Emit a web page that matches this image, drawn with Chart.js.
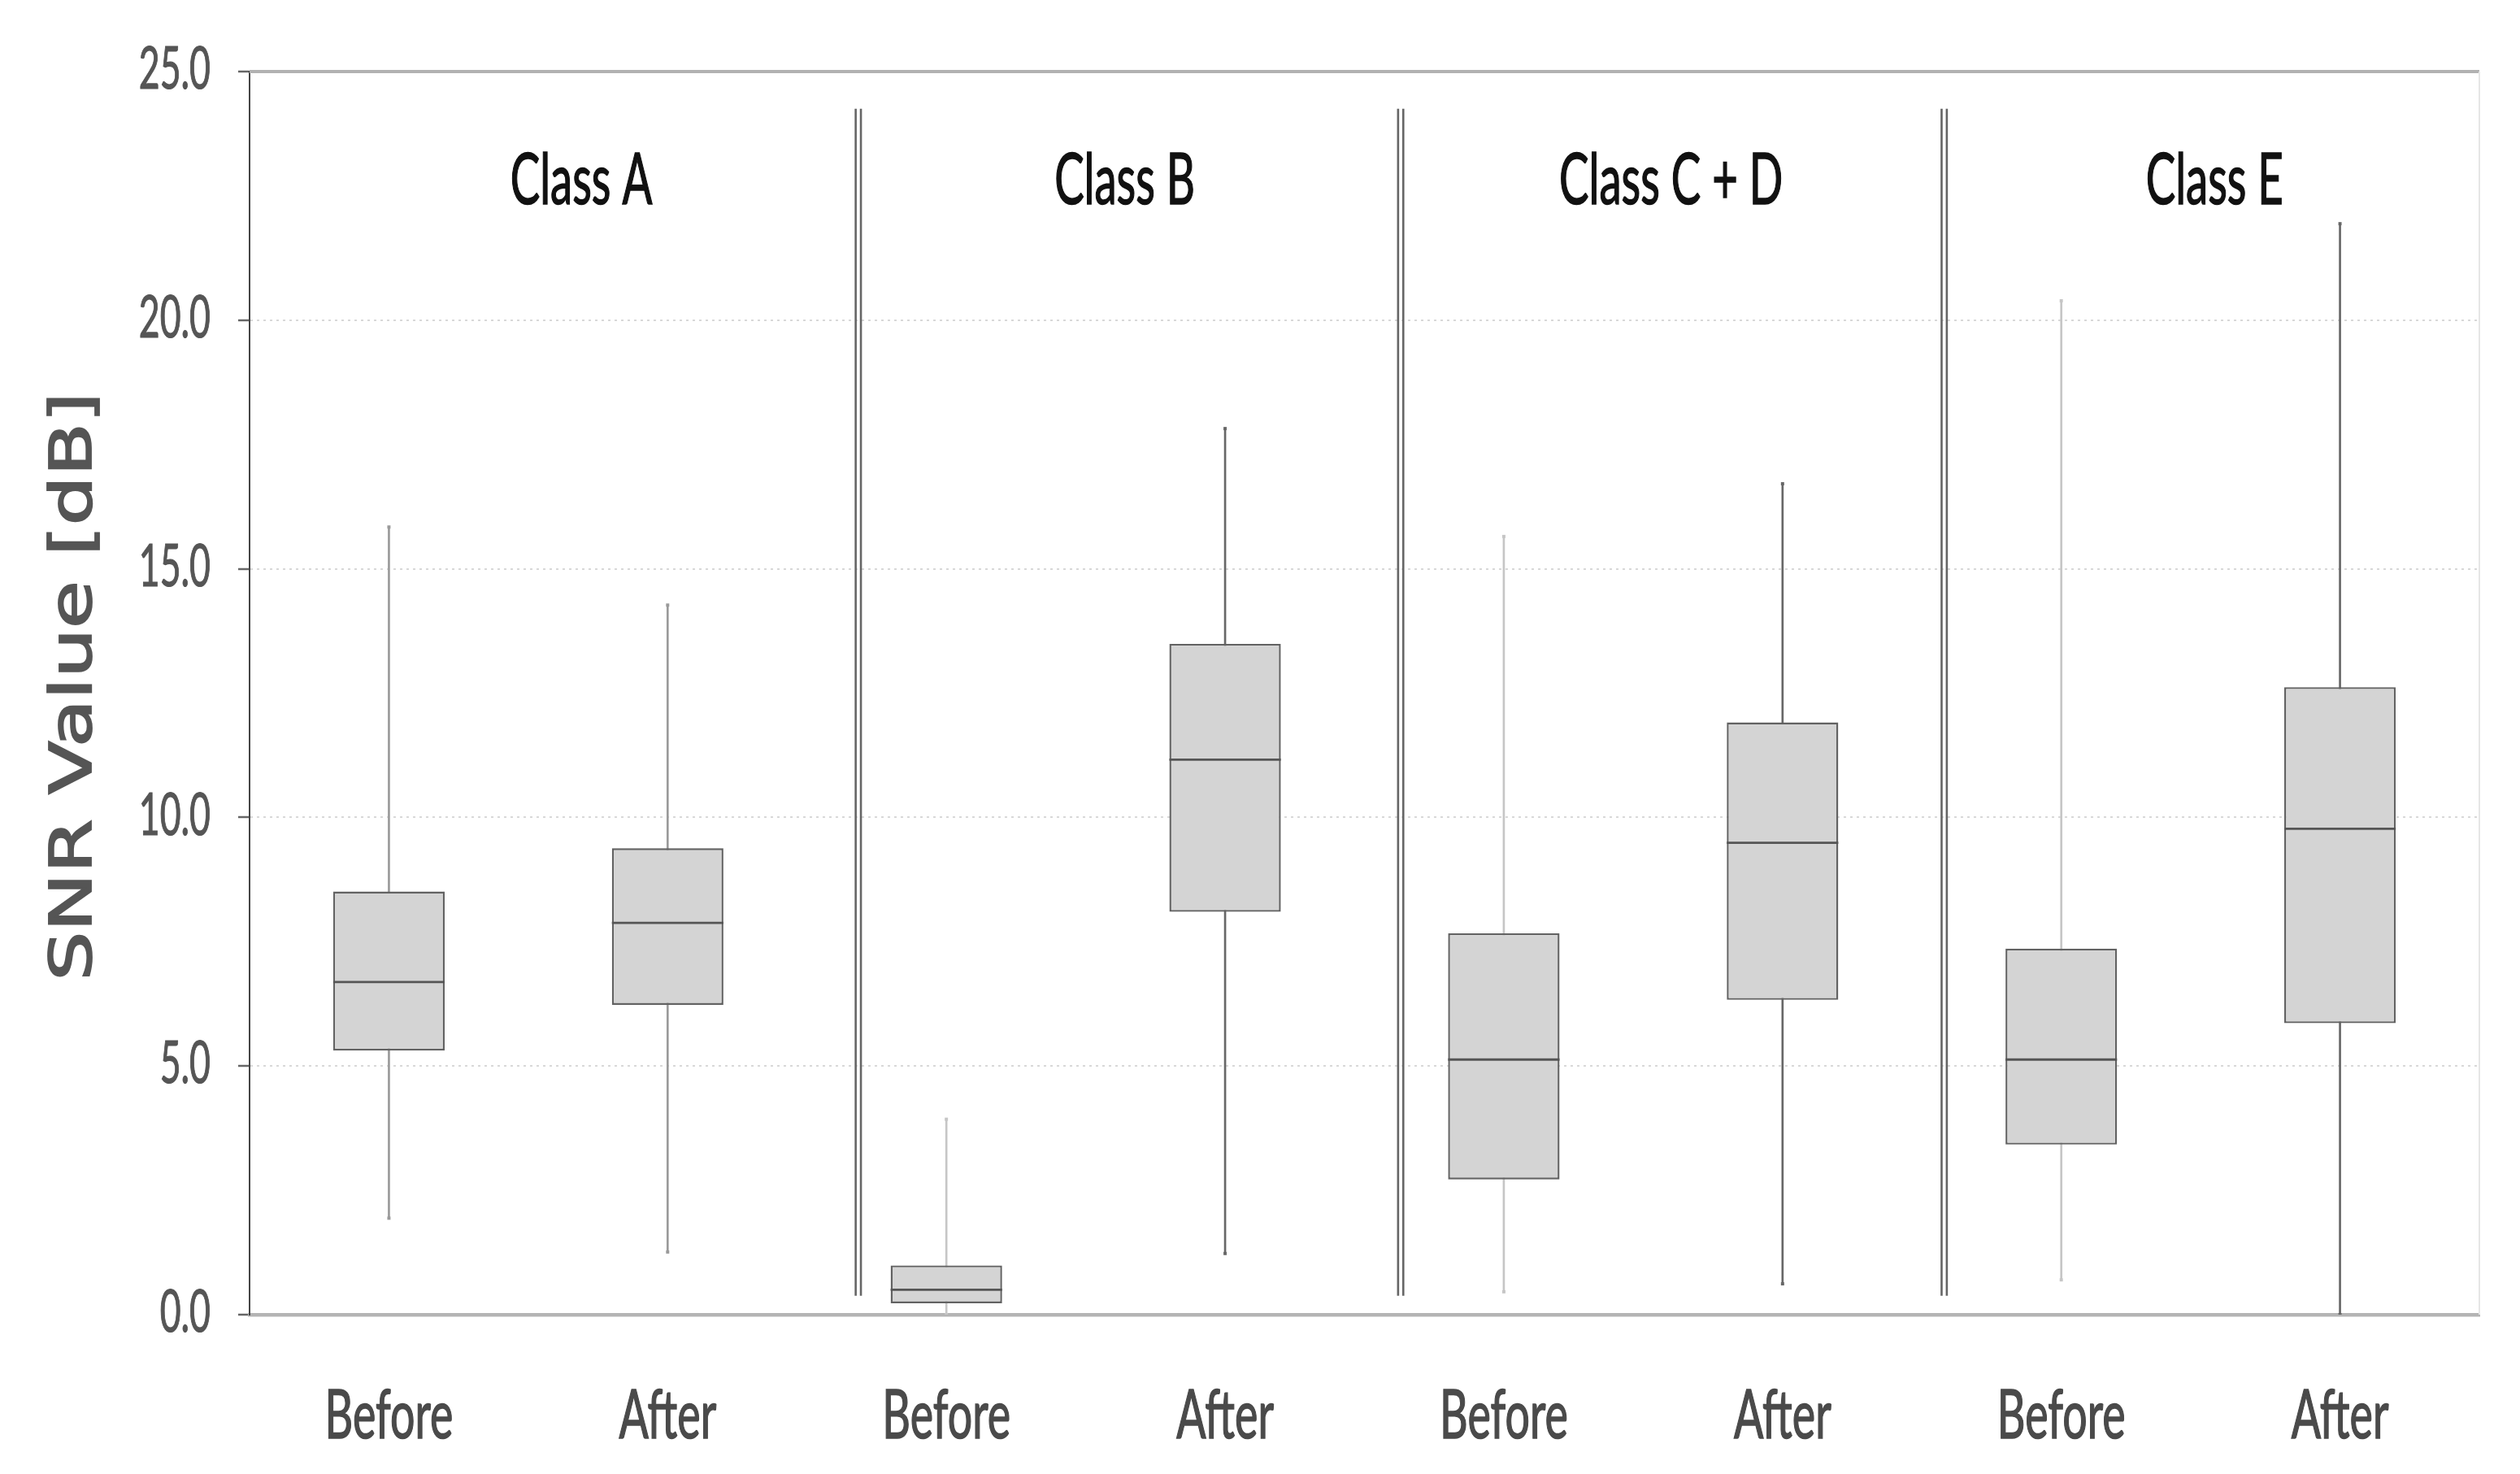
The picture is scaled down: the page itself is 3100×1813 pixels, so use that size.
<!DOCTYPE html>
<html>
<head>
<meta charset="utf-8">
<script src="https://cdn.jsdelivr.net/npm/chart.js@4.4.1/dist/chart.umd.min.js"></script>
<style>
  html, body { margin: 0; padding: 0; background: #fff; }
</style>
</head>
<body>
<canvas id="snr" width="3100" height="1813" style="display:block;width:3100px;height:1813px"></canvas>
<script>
const groups = ['Class A', 'Class B', 'Class C + D', 'Class E'];
const phases = ['Before', 'After'];
const labels = groups.flatMap(() => phases);

// box plot stats, one entry per Before/After column
const whiskerLow  = [1.94, 1.26, 0.00, 1.23, 0.46, 0.62, 0.70, 0.00];
const quartile1   = [5.31, 6.23, 0.23, 8.10, 2.72, 6.33, 3.42, 5.86];
const median      = [6.69, 7.88, 0.50, 11.16, 5.13, 9.49, 5.13, 9.77];
const quartile3   = [8.51, 9.38, 0.99, 13.49, 7.67, 11.91, 7.36, 12.62];
const whiskerHigh = [15.84, 14.27, 3.93, 17.82, 15.65, 16.71, 20.39, 21.94];

const yTicks = [0, 5, 10, 15, 20, 25];

// where the double divider lines and the class captions sit (category index units)
const dividerAt = [1.684, 3.63, 5.58];
const captionAt = [0.69, 2.64, 4.6, 6.55];

const whiskerColor = ['#9a9a9a', '#9a9a9a', '#c6c6c6', '#676767', '#c6c6c6', '#676767', '#c6c6c6', '#676767'];
const narrowFont = "Lato, 'DejaVu Sans Condensed', sans-serif";
const squeeze = 0.62; // the figure's text is much narrower than any installed face

function drawText(ctx, str, x, y, opts) {
  ctx.save();
  ctx.translate(x, y);
  if (opts.rotate) ctx.rotate(opts.rotate);
  ctx.scale(opts.sx, 1);
  ctx.font = `${opts.size}px ${opts.family}`;
  ctx.fillStyle = opts.color;
  ctx.strokeStyle = opts.color;
  ctx.textAlign = opts.align || 'center';
  ctx.textBaseline = 'middle';
  ctx.fillText(str, 0, 0);
  if (opts.bold) {
    ctx.lineWidth = opts.bold;
    ctx.strokeText(str, 0, 0);
  }
  ctx.restore();
}

const decor = {
  id: 'decor',
  afterDatasetsDraw(chart) {
    const { ctx, chartArea, scales: { x, y } } = chart;
    ctx.save();

    // frame top / right
    ctx.strokeStyle = '#b2b2b2';
    ctx.lineWidth = 4;
    ctx.beginPath();
    ctx.moveTo(chartArea.left, chartArea.top);
    ctx.lineTo(chartArea.right, chartArea.top);
    ctx.stroke();
    ctx.strokeStyle = '#e6e6e6';
    ctx.lineWidth = 2;
    ctx.beginPath();
    ctx.moveTo(chartArea.right, chartArea.top);
    ctx.lineTo(chartArea.right, chartArea.bottom);
    ctx.stroke();

    // medians
    ctx.strokeStyle = '#555';
    ctx.lineWidth = 2.8;
    chart.getDatasetMeta(1).data.forEach((bar, i) => {
      const py = y.getPixelForValue(median[i]);
      ctx.beginPath();
      ctx.moveTo(bar.x - bar.width / 2, py);
      ctx.lineTo(bar.x + bar.width / 2, py);
      ctx.stroke();
    });

    // double dividers between classes
    const top = y.getPixelForValue(24.25), bottom = y.getPixelForValue(0.38);
    ctx.strokeStyle = '#666';
    ctx.lineWidth = 2.6;
    dividerAt.forEach(pos => {
      const px = x.getPixelForValue(pos);
      [-3.2, 3.2].forEach(d => {
        ctx.beginPath();
        ctx.moveTo(px + d, top);
        ctx.lineTo(px + d, bottom);
        ctx.stroke();
      });
    });
    ctx.restore();

    // class captions
    groups.forEach((g, i) => {
      drawText(ctx, g, x.getPixelForValue(captionAt[i]), y.getPixelForValue(22.8),
        { size: 88, sx: squeeze, family: narrowFont, color: '#111', bold: 1.6 });
    });

    // category labels
    labels.forEach((l, i) => {
      drawText(ctx, l, x.getPixelForTick(i), chartArea.bottom + 125,
        { size: 84, sx: 0.64, family: narrowFont, color: '#4a4a4a', bold: 1.6 });
    });

    // value labels
    y.ticks.forEach(t => {
      drawText(ctx, t.value.toFixed(1), chartArea.left - 48, y.getPixelForValue(t.value) - 2,
        { size: 72, sx: squeeze, family: narrowFont, color: '#555', align: 'right', bold: 1.2 });
    });

    // axis title, stretched along its length like the source
    drawText(ctx, 'SNR Value [dB]', 93, (chartArea.top + chartArea.bottom) / 2 - 8,
      { size: 72, sx: 1.33, family: "'DejaVu Sans', Verdana, sans-serif", color: '#555', rotate: -Math.PI / 2, bold: 1.8 });
  }
};

new Chart(document.getElementById('snr'), {
  type: 'bar',
  data: {
    labels: labels,
    datasets: [
      {
        label: 'whisker',
        data: whiskerLow.map((lo, i) => [lo, whiskerHigh[i]]),
        backgroundColor: whiskerColor,
        barThickness: 2,
        grouped: false,
        order: 3
      },
      {
        label: 'box',
        data: quartile1.map((q, i) => [q, quartile3[i]]),
        backgroundColor: '#d4d4d4',
        borderColor: '#626262',
        borderWidth: 2.4,
        borderSkipped: false,
        barPercentage: 0.4,
        categoryPercentage: 1,
        grouped: false,
        order: 2
      },
      {
        type: 'line',
        label: 'max',
        data: whiskerHigh,
        showLine: false,
        pointStyle: 'rect',
        pointRadius: 2.8,
        pointBackgroundColor: whiskerColor,
        pointBorderWidth: 0,
        order: 1
      },
      {
        type: 'line',
        label: 'min',
        data: whiskerLow,
        showLine: false,
        pointStyle: 'rect',
        pointRadius: 2.8,
        pointBackgroundColor: whiskerColor,
        pointBorderWidth: 0,
        order: 1
      }
    ]
  },
  options: {
    responsive: false,
    devicePixelRatio: 1,
    animation: false,
    layout: { padding: { top: 88, right: 50, bottom: 0, left: 0 } },
    plugins: {
      legend: { display: false },
      tooltip: { enabled: false }
    },
    scales: {
      x: {
        grid: { display: false, drawTicks: false },
        border: { display: true, color: '#b4b4b4', width: 4.5 },
        ticks: { display: false },
        afterFit: (s) => { s.height = 196; }
      },
      y: {
        min: 0,
        max: 25,
        afterBuildTicks: (s) => { s.ticks = yTicks.map(v => ({ value: v })); },
        ticks: { display: false },
        grid: {
          color: (c) => (c.tick && (c.tick.value === 0 || c.tick.value === 25)) ? 'rgba(0,0,0,0)' : '#d8d8d8',
          lineWidth: 2,
          tickColor: '#666',
          tickLength: 14,
          tickWidth: 2.5,
          tickBorderDash: []
        },
        border: { display: true, color: '#454545', width: 2, dash: [3, 5] },
        afterFit: (s) => { s.width = 307; }
      }
    }
  },
  plugins: [decor]
});
</script>
</body>
</html>
